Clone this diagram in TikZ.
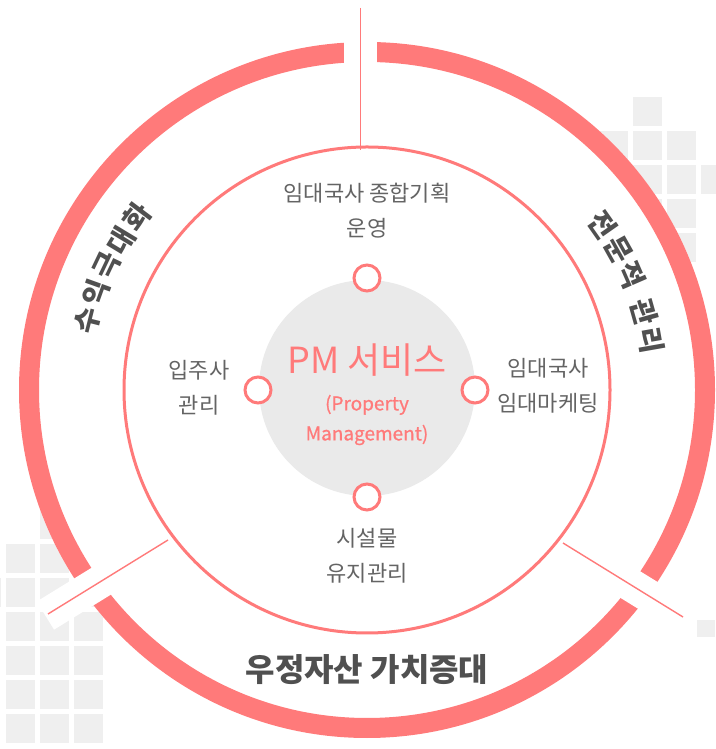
\documentclass[tikz,border=0pt]{standalone}
\usepackage{fontspec}
\setmainfont{Noto Sans CJK KR}
\newfontfamily\semifont[FakeBold=0.8]{Noto Sans CJK KR}
\usetikzlibrary{calc}
\definecolor{pk}{RGB}{255,122,122}
\definecolor{cell}{RGB}{239,239,239}
\definecolor{disc}{RGB}{234,234,234}
\definecolor{txt}{RGB}{100,100,100}
\definecolor{dark}{RGB}{80,80,80}
\tikzset{
  sq/.style={fill=cell},
  ringline/.style={draw=pk,line width=20pt},
  gap/.style={draw=white,line width=33pt},
  sep/.style={draw=pk,line width=1.4pt},
  dot/.style={circle,draw=pk,line width=3pt,fill=white,minimum size=26pt,inner sep=0pt},
  lbl/.style={text=txt,align=center,font=\fontsize{22}{35}\selectfont,inner sep=0pt},
  big/.style={text=dark,font=\fontsize{32}{36}\selectfont\bfseries,inner sep=0pt},
  glyph/.style={text=dark,font=\fontsize{28}{30}\selectfont\bfseries,inner sep=0pt}
}
\begin{document}
\begin{tikzpicture}[x=1pt,y=1pt]
\useasboundingbox (0,0) rectangle (715,749);
% grid squares (top-left corners in image coordinates)
\foreach \x/\y in {633/97, 599/131,633/131,667/131, 599/165,633/165,667/165,701/165, 633/199,667/199, 667/233,
  40/510, 6/544,40/544, -28/578,6/578,40/578,74/578, 6/612,40/612,74/612, 6/646,40/646,74/646, 6/680,40/680,74/680, 6/714,40/714,74/714}
  \fill[sq] (\x,{720-\y}) rectangle ++(29,29);
\fill[sq] (697,112) rectangle (715,129);
% circles
\coordinate (C) at (367,359);
\fill[white] (C) circle (348);
\draw[ringline] (C) circle (338);
% separators
\coordinate (ta) at (360.5,749);
\coordinate (tb) at (360.5,669);
\coordinate (la) at (117,177.5);
\coordinate (lb) at (45.4,133.4);
\coordinate (ra) at (614,174.5);
\coordinate (rb) at (685.5,130.4);
\draw[gap] (ta) -- (tb);
\draw[gap] (la) -- (lb);
\draw[gap] (ra) -- (rb);
\coordinate (t1) at (360.5,741);
\coordinate (t2) at (360.5,599);
\coordinate (l1) at (168,209);
\coordinate (l2) at (48,135);
\coordinate (r1) at (563,206);
\coordinate (r2) at (683,132);
\draw[sep] (t1) -- (t2);
\draw[sep] (l1) -- (l2);
\draw[sep] (r1) -- (r2);
\draw[pk,line width=3pt] (C) circle (243);
\coordinate (G) at (367,361);
\fill[disc] (G) circle (108);
\node[dot] (d1) at (367,471) {};
\node[dot] (d2) at (258,359) {};
\node[dot] (d3) at (475,359) {};
\node[dot] (d4) at (367,252) {};
% labels
\node[lbl] (n1) at (367,538.5) {임대국사 종합기획\\운영};
\node[lbl] (n2) at (199,361) {입주사\\관리};
\node[lbl] (n3) at (548,363) {임대국사\\임대마케팅};
\node[lbl] (n4) at (367,193) {시설물\\유지관리};
\node[text=pk,font=\fontsize{36}{40}\selectfont,inner sep=0pt] (pm) at (367,389) {PM 서비스};
\node[text=pk,align=center,font=\fontsize{19}{30}\semifont,inner sep=0pt] (pme) at (367,329) {(Property\\Management)};
\node[big] (b) at (367,79) {우정자산 가치증대};
% curved ring labels, one glyph at a time
\foreach \g/\a [count=\i] in {수/166,익/160.25,극/154.5,대/148.75,화/143}
  \node[glyph,rotate=\a-90] (la\i) at ($(C)+(\a:288)$) {\g};
\foreach \g/\a [count=\i] in {전/35,문/29.25,적/23.5,관/15.75,리/10}
  \node[glyph,rotate=\a-90] (ra\i) at ($(C)+(\a:288)$) {\g};
\end{tikzpicture}
\end{document}
